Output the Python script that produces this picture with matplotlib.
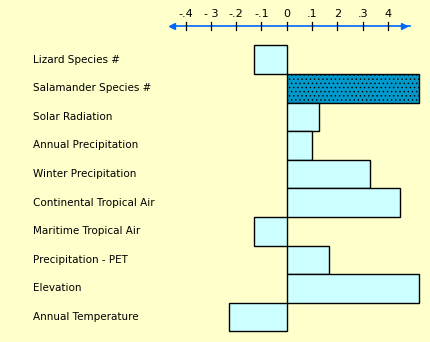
import numpy as np
import matplotlib
matplotlib.use("Agg")
import matplotlib.pyplot as plt

# Variables and their coefficients
variables = [
    "Lizard Species #",
    "Salamander Species #",
    "Solar Radiation",
    "Annual Precipitation",
    "Winter Precipitation",
    "Continental Tropical Air",
    "Maritime Tropical Air",
    "Precipitation - PET",
    "Elevation",
    "Annual Temperature",
]
coefficients = [-0.129, 0.524, 0.126, 0.101, 0.330, 0.449, -0.128, 0.168, 0.524, -0.227]
highlight = "Salamander Species #"

tick_values = [-0.4, -0.3, -0.2, -0.1, 0.0, 0.1, 0.2, 0.3, 0.4]
tick_labels = ["-.4", "- 3", "-.2", "-.1", "0", ".1", "2", ".3", "4"]

bg = "#ffffcc"
bar_color = "#ccffff"
axis_blue = "#0066ff"

plt.rcParams["hatch.linewidth"] = 0.5

fig = plt.figure(figsize=(4.30, 3.42), dpi=100, facecolor=bg)
ax = fig.add_axes([0, 0, 1, 1])
ax.set_facecolor(bg)
ax.set_axis_off()

# data limits chosen so that 0.1 spans ~25 px and rows are ~28.6 px tall
ax.set_xlim(-1.1332, 0.5664)
ax.set_ylim(10.374, -1.584)

rows = np.arange(len(variables)) + 0.5
for y, val, name in zip(rows, coefficients, variables):
    if name == highlight:
        ax.barh(y, val, height=1.0, color="#0099cc", edgecolor="black",
                linewidth=1.0, hatch="....")
    else:
        ax.barh(y, val, height=1.0, color=bar_color, edgecolor="black",
                linewidth=1.0)
    ax.text(-1.003, y, name, ha="left", va="center", fontsize=7.5,
            color="black")

# scale drawn along the top
axis_y = -0.675
ax.plot([-0.4545, 0.487], [axis_y, axis_y], color=axis_blue, linewidth=1.2)
ax.plot([-0.452], [axis_y], marker="<", color=axis_blue, markersize=4.5)
ax.plot([0.462], [axis_y], marker=">", color=axis_blue, markersize=4.5)
for tv, tl in zip(tick_values, tick_labels):
    ax.plot([tv, tv], [axis_y - 0.14, axis_y + 0.14], color="black",
            linewidth=0.9)
    ax.text(tv, axis_y - 0.42, tl, ha="center", va="center", fontsize=8,
            color="black")

fig.savefig("out.png", dpi=100, facecolor=bg)
